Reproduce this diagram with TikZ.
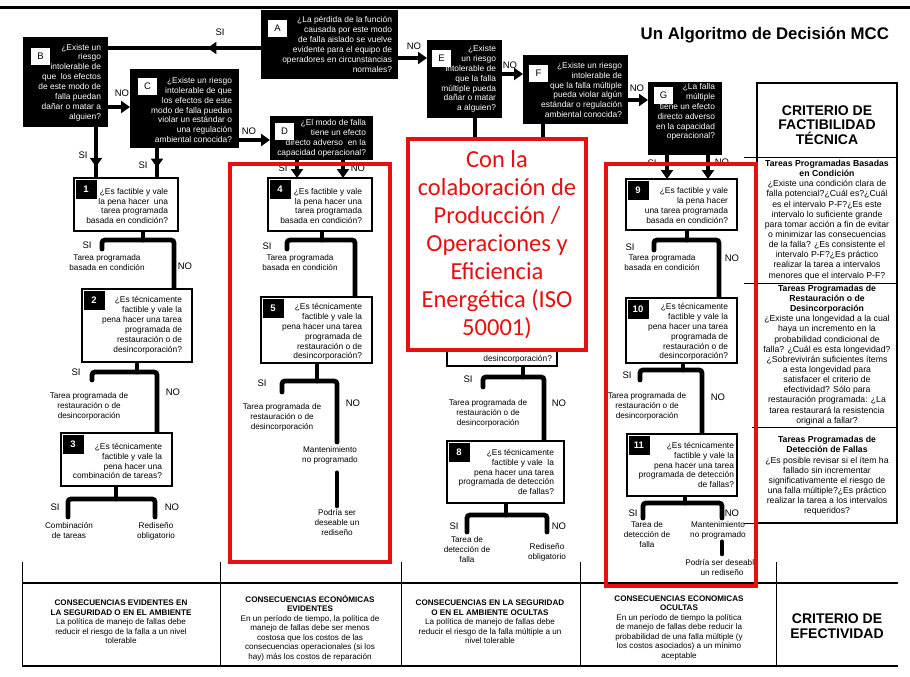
\documentclass[tikz,border=0pt]{standalone}
\usepackage{fontspec}
\setmainfont{Liberation Sans}
\newfontfamily\calibri{Carlito}
\usetikzlibrary{arrows.meta,decorations.markings,backgrounds}
\definecolor{rojo}{RGB}{230,16,16}
\tikzset{
  every node/.style={inner sep=0pt, outer sep=0pt},
  titulo/.style={font=\bfseries\fontsize{16.8}{16.8}\selectfont},
  negra/.style={fill=black, anchor=north west},
  blanca/.style={fill=white, draw=black, line width=1.6pt, anchor=north west},
  letra/.style={fill=white, minimum width=19pt, minimum height=17pt, anchor=north west, font=\fontsize{9.5}{9.5}\selectfont},
  numero/.style={fill=black, text=white, minimum width=21pt, minimum height=19pt, anchor=north west, font=\bfseries\fontsize{9.5}{9.5}\selectfont},
  preg/.style={align=right, anchor=east, font=\fontsize{8.4}{9.9}\selectfont},
  pregb/.style={preg, text=white},
  resp/.style={align=center, font=\fontsize{8.2}{10}\selectfont},
  sino/.style={font=\fontsize{9.5}{9.5}\selectfont},
  crit/.style={align=center, font=\fontsize{8.7}{10.15}\selectfont},
  critb/.style={align=center, font=\bfseries\fontsize{14}{14.5}\selectfont},
  tab/.style={align=center, font=\fontsize{8.1}{9.5}\selectfont},
  barra/.style={line width=4.8pt, line cap=round, rounded corners=3pt},
  flecha/.style={barra, line cap=butt, -{Triangle[length=9pt,width=12pt]}},
  media/.style={barra, line cap=butt, postaction={decorate}, decoration={markings, mark=at position #1 with {\arrow{Triangle[length=9pt,width=12pt]}}}},
  marco/.style={draw=rojo, line width=4pt, anchor=north west},
}
\begin{document}
\begin{tikzpicture}[x=1pt, y=-1pt]
\useasboundingbox (0,0) rectangle (910,677);
\draw[line width=3pt] (0,8) -- (910,8);
\node[titulo, anchor=east] (tit) at (889,35) {Un Algoritmo de Decisión MCC};

\node[negra, minimum width=137, minimum height=69] (A) at (261,10) {};
\node[letra] (A-l) at ([shift={(7pt,-10pt)}]A.north west) {A};
\node[pregb] (A-t) at (392,44.5) {¿La pérdida de la función\\causada por este modo\\de falla aislado se vuelve\\evidente para el equipo de\\operadores en circunstancias\\normales?};

\node[negra, minimum width=85, minimum height=90] (B) at (23,37) {};
\node[letra] (B-l) at ([shift={(8pt,-11pt)}]B.north west) {B};
\node[pregb] (B-t) at (101,82.5) {¿Existe un\\riesgo\\intolerable de\\que\ \ los efectos\\de este modo de\\falla puedan\\dañar o matar a\\alguien?};

\node[negra, minimum width=109, minimum height=79] (C) at (130,69) {};
\node[letra] (C-l) at ([shift={(8pt,-9pt)}]C.north west) {C};
\node[pregb] (C-t) at (232,110) {¿Existe un riesgo\\intolerable de que\\los efectos de este\\modo de falla puedan\\violar un estándar o\\una regulación\\ambiental conocida?};

\node[negra, minimum width=103, minimum height=44] (D) at (270,116) {};
\node[letra] (D-l) at ([shift={(5pt,-7pt)}]D.north west) {D};
\node[pregb] (D-t) at (366,138.5) {¿El modo de falla\\tiene un efecto\\directo adverso\ \ en la\\capacidad operacional?};

\node[negra, minimum width=75, minimum height=78] (E) at (427,40) {};
\node[letra] (E-l) at ([shift={(5pt,-10pt)}]E.north west) {E};
\node[pregb] (E-t) at (496,79) {¿Existe\\un riesgo\\intolerable de\\que la falla\\múltiple pueda\\dañar o matar\\a alguien?};

\node[negra, minimum width=105, minimum height=69] (F) at (523,55) {};
\node[letra] (F-l) at ([shift={(6pt,-10pt)}]F.north west) {F};
\node[pregb] (F-t) at (622,90) {¿Existe un riesgo\\intolerable de\\que la falla múltiple\\pueda violar algún\\estándar o regulación\\ambiental conocida?};

\node[negra, minimum width=74, minimum height=73] (G) at (648,82) {};
\node[letra] (G-l) at ([shift={(6pt,-5pt)}]G.north west) {G};
\node[pregb] (G-t) at (715,112) {¿La falla\\múltiple\\tiene un efecto\\directo adverso\\en la capacidad\\operacional?};

\node[blanca, minimum width=104, minimum height=53] (n1) at (74,178) {};
\node[numero] (n1-l) at ([shift={(1.5pt,-1.5pt)}]n1.north west) {1};
\node[preg] (n1-t) at (168,206) {¿Es factible y vale\\la pena hacer\ \ una\\tarea programada\\basada en condición?};

\node[blanca, minimum width=110, minimum height=73] (n2) at (82,289) {};
\node[numero] (n2-l) at ([shift={(1.5pt,-1.5pt)}]n2.north west) {2};
\node[preg] (n2-t) at (182,325.5) {¿Es técnicamente\\factible y vale la\\pena hacer una tarea\\programada de\\restauración o de\\desincorporación?};

\node[blanca, minimum width=111, minimum height=53] (n3) at (61,433) {};
\node[numero] (n3-l) at ([shift={(1.5pt,-1.5pt)}]n3.north west) {3};
\node[preg] (n3-t) at (162,461) {¿Es técnicamente\\factible y vale la\\pena hacer una\\combinación de tareas?};

\node[blanca, minimum width=104, minimum height=53] (n4) at (268,178) {};
\node[numero] (n4-l) at ([shift={(1.5pt,-1.5pt)}]n4.north west) {4};
\node[preg] (n4-t) at (362,206) {¿Es factible y vale\\la pena hacer una\\tarea programada\\basada en condición?};

\node[blanca, minimum width=111, minimum height=66] (n5) at (261,297) {};
\node[numero] (n5-l) at ([shift={(1.5pt,-1.5pt)}]n5.north west) {5};
\node[preg] (n5-t) at (362,332) {¿Es técnicamente\\factible y vale la\\pena hacer una tarea\\programada de\\restauración o de\\desincorporación?};

\node[blanca, minimum width=110, minimum height=66] (n6) at (447,300) {};
\node[preg] (n6-t) at (552,359) {desincorporación?};

\node[blanca, minimum width=117, minimum height=62] (n8) at (447,441) {};
\node[numero] (n8-l) at ([shift={(1.5pt,-1.5pt)}]n8.north west) {8};
\node[preg] (n8-t) at (554,472) {¿Es técnicamente\\factible y vale\ \ la\\pena hacer una tarea\\programada de detección\\de fallas?};

\node[blanca, minimum width=111, minimum height=51] (n9) at (626,179) {};
\node[numero] (n9-l) at ([shift={(1.5pt,-1.5pt)}]n9.north west) {9};
\node[preg] (n9-t) at (728,205.5) {¿Es factible y vale\\la pena hacer\\una tarea programada\\basada en condición?};

\node[blanca, minimum width=111, minimum height=65] (n10) at (626,298) {};
\node[numero] (n10-l) at ([shift={(1.5pt,-1.5pt)}]n10.north west) {10};
\node[preg] (n10-t) at (728,332) {¿Es técnicamente\\factible y vale la\\pena hacer una tarea\\programada de\\restauración o de\\desincorporación?};

\node[blanca, minimum width=110, minimum height=62] (n11) at (627,434) {};
\node[numero] (n11-l) at ([shift={(1.5pt,-1.5pt)}]n11.north west) {11};
\node[preg] (n11-t) at (734,465) {¿Es técnicamente\\factible y vale la\\pena hacer una tarea\\programada de detección\\de fallas?};

\node[resp] (t1) at (107,263) {Tarea programada\\basada en condición};
\node[resp] (t2) at (89,406) {Tarea programada de\\restauración o de\\desincorporación};
\node[resp] (t3s) at (69,531) {Combinación\\de tareas};
\node[resp] (t3n) at (156,531) {Rediseño\\obligatorio};
\node[resp] (t4) at (300,263) {Tarea programada\\basada en condición};
\node[resp] (t5) at (282,417) {Tarea programada de\\restauración o de\\desincorporación};
\node[resp] (m5) at (330,455) {Mantenimiento\\no programado};
\node[resp] (p5) at (337,523) {Podría ser\\deseable un\\rediseño};
\node[resp] (t6) at (488,413) {Tarea programada de\\restauración o de\\desincorporación};
\node[resp] (t8s) at (467,550) {Tarea de\\detección de\\falla};
\node[resp] (t8n) at (547,552) {Rediseño\\obligatorio};
\node[resp] (t9) at (662,263) {Tarea programada\\basada en condición};
\node[resp] (t10) at (647,406) {Tarea programada de\\restauración o de\\desincorporación};
\node[resp] (t11) at (647,535) {Tarea de\\detección de\\falla};
\node[resp] (m11) at (718,530) {Mantenimiento\\no programado};
\node[resp] (p11) at (722,568) {Podría ser deseable\\un rediseño};

\node[sino] (s-ab) at (220,32) {SI};
\node[sino] (s-bc) at (122,93) {NO};
\node[sino] (s-cd) at (249,131) {NO};
\node[sino] (s-ae) at (414,46) {NO};
\node[sino] (s-ef) at (510,65) {NO};
\node[sino] (s-fg) at (637,88) {NO};
\node[sino] (s-b1) at (83,155) {SI};
\node[sino] (s-c1) at (143,165) {SI};
\node[sino] (s-d4) at (283,168) {SI};
\node[sino] (n-d4) at (358,168) {NO};
\node[sino] (s-g9) at (652,163) {SI};
\node[sino] (n-g9) at (722,162) {NO};
\node[sino] (s1) at (87,245) {SI};
\node[sino] (o1) at (185,266) {NO};
\node[sino] (s2) at (76,372) {SI};
\node[sino] (o2) at (173,392) {NO};
\node[sino] (s3) at (55,507) {SI};
\node[sino] (o3) at (172,507) {NO};
\node[sino] (s4) at (267,246) {SI};
\node[sino] (s5) at (262,383) {SI};
\node[sino] (o5) at (353,403) {NO};
\node[sino] (s6) at (468,379) {SI};
\node[sino] (o6) at (559,403) {NO};
\node[sino] (s8) at (454,526) {SI};
\node[sino] (o8) at (559,526) {NO};
\node[sino] (s9) at (630,247) {SI};
\node[sino] (o9) at (732,258) {NO};
\node[sino] (s10) at (627,375) {SI};
\node[sino] (o10) at (718,397) {NO};
\node[sino] (s11) at (633,513) {SI};
\node[sino] (o11) at (732,513) {NO};

\node[draw, line width=1.2pt, minimum width=140, minimum height=440, anchor=north west] (crit) at (757,83) {};
\node[critb] (crit-h) at (827,125) {CRITERIO DE\\FACTIBILIDAD\\TÉCNICA};
\node[crit] (crit-1) at (827,220) {\textbf{Tareas Programadas Basadas}\\\textbf{en Condición}\\¿Existe una condición clara de\\falla potencial?¿Cuál es?¿Cuál\\es el intervalo P-F?¿Es este\\intervalo lo suficiente grande\\para tomar acción a fin de evitar\\o minimizar las consecuencias\\de la falla? ¿Es consistente el\\intervalo P-F?¿Es práctico\\realizar la tarea a intervalos\\menores que el intervalo P-F?};
\node[crit] (crit-2) at (827,355) {\textbf{Tareas Programadas de}\\\textbf{Restauración o de}\\\textbf{Desincorporación}\\¿Existe una longevidad a la cual\\haya un incremento en la\\probabilidad condicional de\\falla? ¿Cuál es esta longevidad?\\¿Sobrevivirán suficientes ítems\\a esta longevidad para\\satisfacer el criterio de\\efectividad? Sólo para\\restauración programada: ¿La\\tarea restaurará la resistencia\\original a fallar?};
\node[crit] (crit-3) at (827,476) {\textbf{Tareas Programadas de}\\\textbf{Detección de Fallas}\\¿Es posible revisar si el ítem ha\\fallado sin incrementar\\significativamente el riesgo de\\una falla múltiple?¿Es práctico\\realizar la tarea a los intervalos\\requeridos?};
\coordinate (k1) at (744,157);
\coordinate (k2) at (744,283);
\coordinate (k3) at (752,427);
\coordinate (k4) at (744,523);
\draw[line width=1pt] (k1) -- (k1 -| crit.east);
\draw[line width=1pt] (k2) -- (k2 -| crit.east);
\draw[line width=1pt] (k3) -- (k3 -| crit.east);
\draw[line width=1pt] (k4) -- (crit.south west);

\foreach \x in {22,220,401,580,776}
\draw[line width=0.8pt] (\x,562) -- (\x,666);
\draw[line width=1.2pt] (22,583) -- (898,583);
\draw[line width=2.4pt] (22,666) -- (898,666);
\node[tab] (c1) at (121,622) {\textbf{CONSECUENCIAS EVIDENTES EN}\\\textbf{LA SEGURIDAD O EN EL AMBIENTE}\\La política de manejo de fallas debe\\reducir el riesgo de la falla a un nivel\\tolerable};
\node[tab] (c2) at (310,628) {\textbf{CONSECUENCIAS ECONÓMICAS}\\\textbf{EVIDENTES}\\En un período de tiempo, la política de\\manejo de fallas debe ser menos\\costosa que los costos de las\\consecuencias operacionales (si los\\hay) más los costos de reparación};
\node[tab] (c3) at (490,622) {\textbf{CONSECUENCIAS EN LA SEGURIDAD}\\\textbf{O EN EL AMBIENTE OCULTAS}\\La política de manejo de fallas debe\\reducir el riesgo de la falla múltiple a un\\nivel tolerable};
\node[tab] (c4) at (679,628) {\textbf{CONSECUENCIAS ECONOMICAS}\\\textbf{OCULTAS}\\En un período de tiempo la política\\de manejo de fallas debe reducir la\\probabilidad de una falla múltiple (y\\los costos asociados) a un mínimo\\aceptable};
\node[critb] (c5) at (837,626) {CRITERIO DE\\EFECTIVIDAD};

\begin{pgfonlayer}{background}
\fill[white] (0,0) rectangle (910,677);
\coordinate (ab) at ([yshift=-3.5pt]A.west);
\draw[media=0.35] (ab) -- (ab -| B.east);
\coordinate (bc) at ([yshift=-25pt]B.east);
\draw[flecha] (bc) -- (bc -| C.west);
\coordinate (cd) at ([yshift=-31.5pt]C.east);
\draw[flecha] (cd) -- (cd -| D.west);
\coordinate (ae) at ([yshift=-13.5pt]A.east);
\draw[flecha] (ae) -- (ae -| E.west);
\coordinate (ef) at ([yshift=5pt]E.east);
\draw[flecha] (ef) -- (ef -| F.west);
\coordinate (fg) at ([yshift=-10.5pt]F.east);
\draw[flecha] (fg) -- (fg -| G.west);

\coordinate (b1) at ([xshift=30.5pt]B.south);
\draw[media=0.78] (b1) -- (b1 |- n1.north);
\coordinate (c1) at ([xshift=-27.5pt]C.south);
\draw[media=0.65] (c1) -- (c1 |- n1.north);
\coordinate (d4a) at ([xshift=-24.5pt]D.south);
\coordinate (d4b) at ([xshift=21.5pt]D.south);
\draw[flecha] (d4a) -- (d4a |- n4.north);
\draw[flecha] (d4b) -- (d4b |- n4.north);
\coordinate (e6) at ([xshift=10.5pt]E.south);
\draw[barra] (e6) -- (e6 |- n6.north);
\coordinate (f6) at ([xshift=-32.5pt]F.south);
\draw[barra] (f6) -- (f6 |- n6.north);
\coordinate (g9a) at ([xshift=-18pt]G.south);
\coordinate (g9b) at ([xshift=23pt]G.south);
\draw[flecha] (g9a) -- (g9a |- n9.north);
\draw[flecha] (g9b) -- (g9b |- n9.north);

\coordinate (j1) at (143,240);
\coordinate (si1) at (102,249);
\coordinate (no1) at (174,240);
\draw[barra] (n1.south -| j1) -- (j1);
\draw[barra] (si1) |- (no1) -- (no1 |- n2.north);
\coordinate (j2) at (137,372);
\coordinate (si2) at (92,380);
\coordinate (no2) at (157,372);
\draw[barra] (n2.south -| j2) -- (j2);
\draw[barra] (si2) |- (no2) -- (no2 |- n3.north);
\coordinate (j3) at (116,499);
\coordinate (si3) at (68,517);
\coordinate (no3) at (155,517);
\draw[barra] (n3.south -| j3) -- (j3);
\draw[barra] (si3) |- (j3) -| (no3);
\coordinate (j4) at (322,240);
\coordinate (si4) at (287,249);
\coordinate (no4) at (355,240);
\draw[barra] (n4.south -| j4) -- (j4);
\draw[barra] (si4) |- (no4) -- (no4 |- n5.north);
\coordinate (j5) at (317,381);
\coordinate (si5) at (282,392);
\coordinate (no5) at (337,442);
\draw[barra] (n5.south -| j5) -- (j5);
\draw[barra] (si5) |- (j5) -| (no5);
\coordinate (r5) at ([yshift=-9pt]m5.south);
\draw[barra] (r5 -| p5.north) -- ([yshift=4pt]p5.north);
\coordinate (j6) at (523,377);
\coordinate (si6) at (483,387);
\coordinate (no6) at (544,377);
\draw[barra] (n6.south -| j6) -- (j6);
\draw[barra] (si6) |- (no6) -- (no6 |- n8.north);
\coordinate (j8) at (506,515);
\coordinate (si8) at (467,532);
\coordinate (no8) at (547,532);
\draw[barra] (n8.south -| j8) -- (j8);
\draw[barra] (si8) |- (j8) -| (no8);
\coordinate (j9) at (687,240);
\coordinate (si9) at (654,250);
\coordinate (no9) at (719,240);
\draw[barra] (n9.south -| j9) -- (j9);
\draw[barra] (si9) |- (no9) -- (no9 |- n10.north);
\coordinate (j10) at (683,370);
\coordinate (si10) at (640,380);
\coordinate (no10) at (702,370);
\draw[barra] (n10.south -| j10) -- (j10);
\draw[barra] (si10) |- (no10) -- (no10 |- n11.north);
\coordinate (j11) at (685,503);
\coordinate (si11) at (643,518);
\coordinate (no11) at (722,518);
\draw[barra] (n11.south -| j11) -- (j11);
\draw[barra] (si11) |- (j11) -| (no11);
\coordinate (r11) at ([yshift=-3pt]m11.south);
\draw[barra] (r11 -| p11.north) -- ([yshift=6pt]p11.north);
\end{pgfonlayer}

\node[marco, minimum width=160, minimum height=398] (rojo1) at (230,164) {};
\node[marco, fill=white, minimum width=178, minimum height=211] (rojo2) at (408,139) {};
\node[text=rojo, align=center, font=\calibri\fontsize{24.5}{28}\selectfont] (colab) at (rojo2.center) {Con la\\colaboración de\\Producción /\\Operaciones y\\Eficiencia\\Energética (ISO\\50001)};
\node[marco, minimum width=150, minimum height=422] (rojo3) at (606,164) {};
\end{tikzpicture}
\end{document}
